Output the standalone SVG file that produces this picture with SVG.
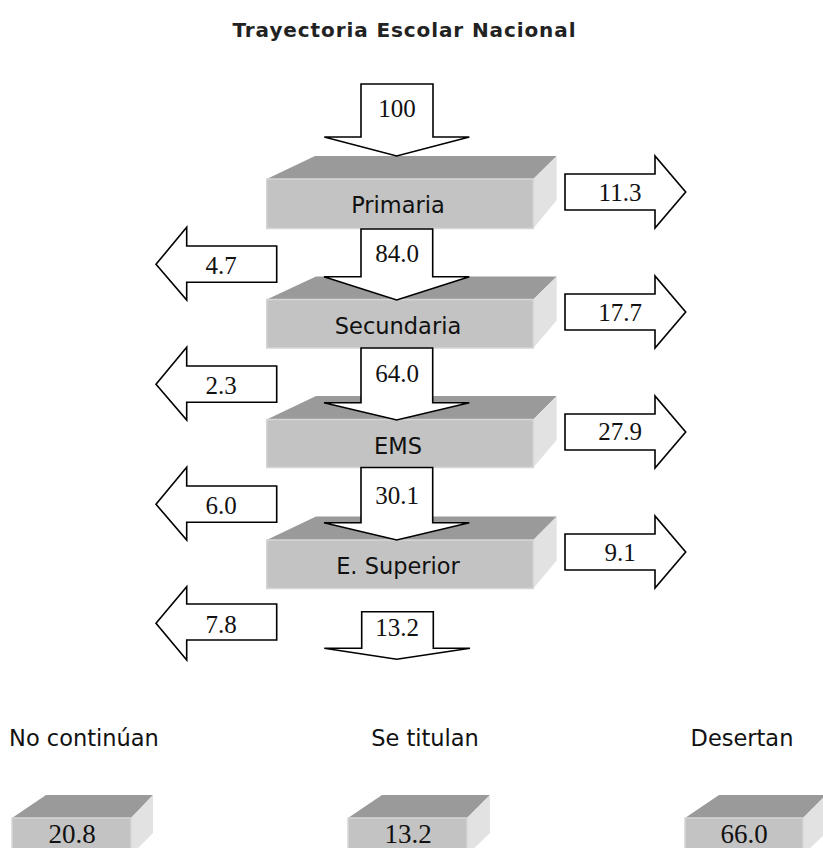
<svg xmlns="http://www.w3.org/2000/svg" width="823" height="848" viewBox="0 0 823 848">
<style>
.top{fill:#9a9a9a}
.front{fill:#c3c3c3;stroke:#d6d6d6;stroke-width:1.5}
.side{fill:#e2e2e2}
.arr{fill:#ffffff;stroke:#000000;stroke-width:1.6;stroke-linejoin:miter}
.num{font-family:"Liberation Serif","Times New Roman",serif;font-size:25px;fill:#111;text-anchor:middle}
.big{font-family:"Liberation Serif","Times New Roman",serif;font-size:27px;fill:#111;text-anchor:middle}
.lbl{font-family:"DejaVu Sans",Verdana,sans-serif;font-size:22.5px;fill:#111;text-anchor:middle}
.title{font-family:"DejaVu Sans",Verdana,sans-serif;font-size:20px;font-weight:bold;fill:#222;text-anchor:middle}
</style>
<rect width="823" height="848" fill="#ffffff"/>
<text class="title" x="404" y="37" textLength="343" lengthAdjust="spacing">Trayectoria Escolar Nacional</text>

<g id="primaria">
<polygon class="top" points="266.7,179 315,156 556.7,156 533.3,179"/>
<polygon class="side" points="533.3,179 556.7,156 556.7,200 533.3,228.5"/>
<rect class="front" x="266.7" y="179" width="266.6" height="49.5"/>
<text class="lbl" x="398" y="213">Primaria</text>
</g>
<g id="secundaria">
<polygon class="top" points="266.7,299.5 316,276.5 556.7,276.5 533.3,299.5"/>
<polygon class="side" points="533.3,299.5 556.7,276.5 556.7,320.5 533.3,348"/>
<rect class="front" x="266.7" y="299.5" width="266.6" height="48.5"/>
<text class="lbl" x="398" y="334">Secundaria</text>
</g>
<g id="ems">
<polygon class="top" points="266.7,419.5 316,396 556.7,396 533.3,419.5"/>
<polygon class="side" points="533.3,419.5 556.7,396 556.7,440 533.3,467.5"/>
<rect class="front" x="266.7" y="419.5" width="266.6" height="48"/>
<text class="lbl" x="398" y="453.5">EMS</text>
</g>
<g id="superior">
<polygon class="top" points="266.7,540 316,516.5 556.7,516.5 533.3,540"/>
<polygon class="side" points="533.3,540 556.7,516.5 556.7,560.5 533.3,588.5"/>
<rect class="front" x="266.7" y="540" width="266.6" height="48.5"/>
<text class="lbl" x="398" y="574">E. Superior</text>
</g>

<g id="cube-nocontinuan">
<text class="lbl" x="84" y="746">No continúan</text>
<polygon class="top" points="12,818 46,795 153,795 131,818"/>
<polygon class="side" points="131,818 153,795 153,833 131,855"/>
<rect class="front" x="12" y="818" width="119" height="32"/>
<text class="big" x="72" y="843">20.8</text>
</g>
<g id="cube-setitulan">
<text class="lbl" x="425" y="746">Se titulan</text>
<polygon class="top" points="348,818 382,795 490,795 467,818"/>
<polygon class="side" points="467,818 490,795 490,833 467,855"/>
<rect class="front" x="348" y="818" width="119" height="32"/>
<text class="big" x="408" y="843">13.2</text>
</g>
<g id="cube-desertan">
<text class="lbl" x="742" y="746">Desertan</text>
<polygon class="top" points="685,818 719,795 826,795 803,818"/>
<polygon class="side" points="803,818 826,795 826,833 803,855"/>
<rect class="front" x="685" y="818" width="118" height="32"/>
<text class="big" x="744" y="843">66.0</text>
</g>

<g id="connectors">
<g id="down-arrows">
<polygon class="arr" points="361,84 433,84 433,137 469.3,137 396.7,156 324.3,137 361,137"/>
<text class="num" x="397" y="117">100</text>
<polygon class="arr" points="361,229 432.7,229 432.7,276.7 469.3,276.7 396.7,300 324,276.7 361,276.7"/>
<text class="num" x="397" y="262">84.0</text>
<polygon class="arr" points="361,348 432.7,348 432.7,402.7 469.3,402.7 396.7,420 324,402.7 361,402.7"/>
<text class="num" x="397" y="382">64.0</text>
<polygon class="arr" points="361,467.5 432.7,467.5 432.7,522.7 469.3,522.7 396.7,540 324,522.7 361,522.7"/>
<text class="num" x="397" y="504">30.1</text>
<polygon class="arr" points="361.7,611.7 433.3,611.7 433.3,648.3 470,648.3 396.7,659.3 324.3,648.3 361.7,648.3"/>
<text class="num" x="397" y="636">13.2</text>
</g>
<g id="left-arrows">
<polygon class="arr" points="156,264.3 186.7,227.3 186.7,246 276.7,246 276.7,282.3 186.7,282.3 186.7,300"/>
<text class="num" x="221" y="274">4.7</text>
<polygon class="arr" points="156,384.3 186.7,347.3 186.7,366 276.7,366 276.7,402.3 186.7,402.3 186.7,420"/>
<text class="num" x="221" y="394">2.3</text>
<polygon class="arr" points="156,504.3 186.7,467.3 186.7,486 276.7,486 276.7,522.3 186.7,522.3 186.7,540"/>
<text class="num" x="221" y="514">6.0</text>
<polygon class="arr" points="156,623.3 186.7,586.7 186.7,604 276.7,604 276.7,640 186.7,640 186.7,660"/>
<text class="num" x="221" y="633">7.8</text>
</g>
<g id="right-arrows">
<polygon class="arr" points="565,174 655,174 655,156 685.7,192 655,228 655,210 565,210"/>
<text class="num" x="620" y="201">11.3</text>
<polygon class="arr" points="565,294 655,294 655,276 685.7,312 655,348 655,330 565,330"/>
<text class="num" x="620" y="321">17.7</text>
<polygon class="arr" points="565,414 655,414 655,396 685.7,432 655,468 655,450 565,450"/>
<text class="num" x="620" y="440">27.9</text>
<polygon class="arr" points="565,534 655,534 655,516 685.7,552 655,588 655,570 565,570"/>
<text class="num" x="620" y="561">9.1</text>
</g>
</g>
</svg>
